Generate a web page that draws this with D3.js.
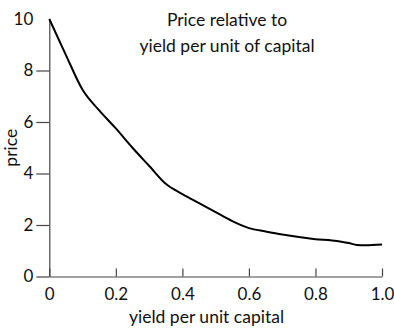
<!DOCTYPE html>
<html>
<head>
<meta charset="utf-8">
<script src="https://cdn.jsdelivr.net/npm/d3@7"></script>
<style>
  html, body { margin: 0; padding: 0; background: #fff; }
  svg { display: block; font-family: Lato, "Open Sans", sans-serif; }
</style>
</head>
<body>
<svg id="chart" width="394" height="331"></svg>
<script>
// Yield per unit of capital and the corresponding price
const yieldValues = [0, 0.05, 0.1, 0.15, 0.2, 0.25, 0.3, 0.35, 0.4, 0.45, 0.5, 0.55, 0.6, 0.65, 0.7, 0.75, 0.8, 0.85, 0.9, 0.925, 0.95, 1.0];
const priceValues = [10, 8.6, 7.25, 6.45, 5.75, 5.0, 4.3, 3.6, 3.2, 2.85, 2.5, 2.15, 1.88, 1.75, 1.63, 1.53, 1.45, 1.4, 1.3, 1.22, 1.21, 1.24];
const xTicks = [0, 0.2, 0.4, 0.6, 0.8, 1.0];
const xTickLabels = ["0", "0.2", "0.4", "0.6", "0.8", "1.0"];
const yTicks = [0, 2, 4, 6, 8, 10];
const titleLines = ["Price relative to", "yield per unit of capital"];
const xTitle = "yield per unit capital";
const yTitle = "price";

const svg = d3.select("#chart");
const margin = { left: 49.3, right: 12, top: 19, bottom: 54.5 };
const W = 394, H = 331;

const x = d3.scaleLinear().domain([0, 1]).range([margin.left, W - margin.right]);
const y = d3.scaleLinear().domain([0, 10]).range([H - margin.bottom, margin.top]);

const axisColor = "#444";

// x axis: ticks point up into the plot
const gx = svg.append("g")
  .attr("transform", `translate(0,${y(0)})`)
  .call(d3.axisBottom(x)
    .tickValues(xTicks)
    .tickFormat((d, i) => xTickLabels[i])
    .tickSizeInner(-8)
    .tickSizeOuter(0)
    .tickPadding(11));

// y axis: ticks to the left
const gy = svg.append("g")
  .attr("transform", `translate(${x(0)},0)`)
  .call(d3.axisLeft(y)
    .tickValues(yTicks)
    .tickSize(13)
    .tickSizeOuter(0)
    .tickPadding(3));

gy.selectAll(".tick").filter(d => d === 10).select("line").remove();

[gx, gy].forEach(g => {
  g.select(".domain").attr("stroke", axisColor).attr("stroke-width", 1.2);
  g.selectAll(".tick line").attr("stroke", axisColor).attr("stroke-width", 1.2);
  g.selectAll(".tick text")
    .attr("fill", "#111")
    .style("font-size", "17px")
    .style("font-family", "Lato, 'Open Sans', sans-serif");
});

// price curve
const line = d3.line()
  .x((d, i) => x(yieldValues[i]))
  .y(d => y(d))
  .curve(d3.curveMonotoneX);

svg.append("path")
  .datum(priceValues)
  .attr("d", line)
  .attr("fill", "none")
  .attr("stroke", "#000")
  .attr("stroke-width", 2);

// title
svg.append("g").selectAll("text")
  .data(titleLines)
  .join("text")
  .attr("x", 227)
  .attr("y", (d, i) => 26 + i * 26)
  .attr("text-anchor", "middle")
  .attr("fill", "#111")
  .style("font-size", "17.5px")
  .text(d => d);

// axis titles
svg.append("text")
  .attr("x", 206.5)
  .attr("y", 323)
  .attr("text-anchor", "middle")
  .attr("fill", "#111")
  .style("font-size", "17.5px")
  .text(xTitle);

svg.append("text")
  .attr("transform", `translate(17,${(y(0) + y(10)) / 2}) rotate(-90)`)
  .attr("text-anchor", "middle")
  .attr("fill", "#111")
  .style("font-size", "17.5px")
  .text(yTitle);
</script>
</body>
</html>
